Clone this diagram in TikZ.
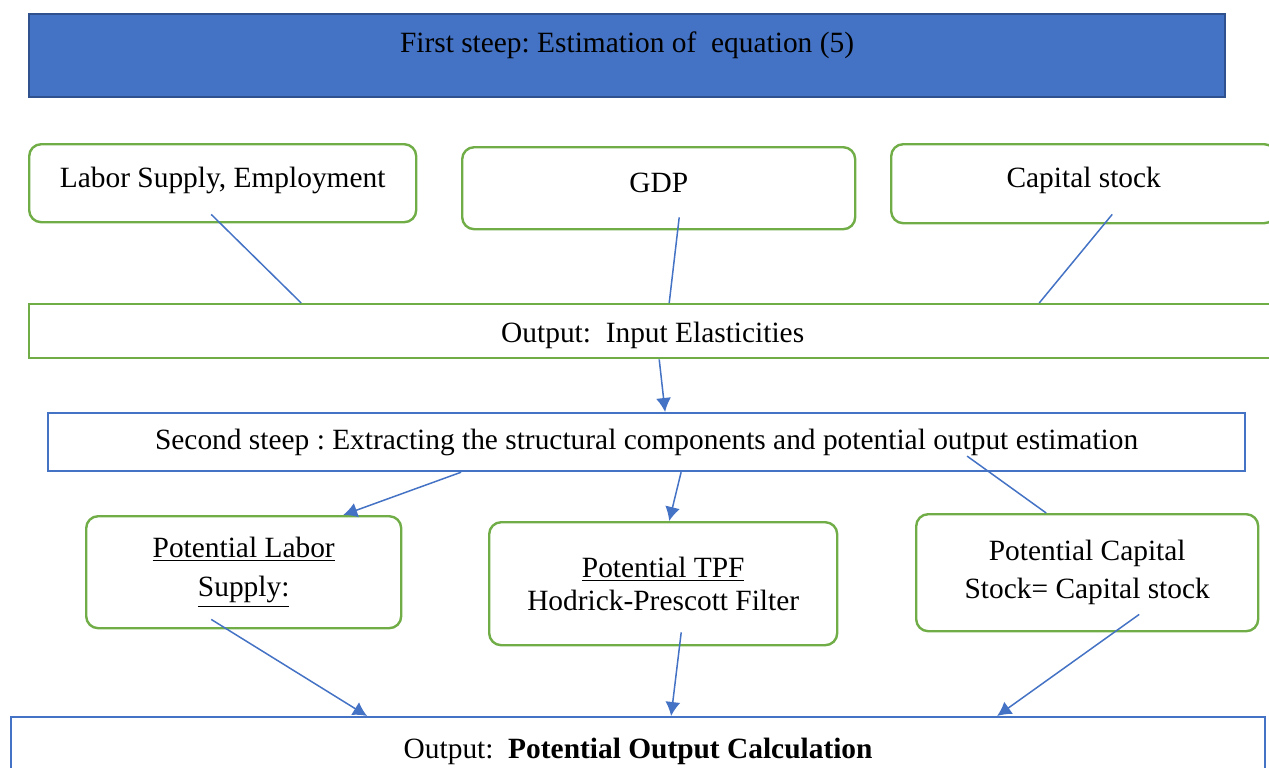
\documentclass[tikz,border=0pt,12pt]{standalone}
\usepackage{fontspec}
\setmainfont{Liberation Serif}
\usetikzlibrary{arrows.meta,positioning}
\definecolor{boxgreen}{HTML}{70AD47}
\definecolor{boxblue}{HTML}{4472C4}
\definecolor{darkblue}{HTML}{2F528F}
\tikzset{
  every node/.style={font=\fontsize{14.7pt}{17.6pt}\selectfont},
  roundbox/.style={draw=boxgreen,line width=1.2pt,rounded corners=6pt,anchor=north west,align=center,inner sep=0pt},
  greenrect/.style={draw=boxgreen,line width=1.2pt,anchor=north west,inner sep=0pt},
  bluerect/.style={draw=boxblue,line width=1.1pt,anchor=north west,inner sep=0pt},
  topbar/.style={draw=darkblue,fill=boxblue,line width=1pt,anchor=north west,inner sep=0pt},
  link/.style={draw=boxblue,line width=0.75pt}
}
\frenchspacing
\begin{document}
\begin{tikzpicture}[x=0.5pt,y=-0.5pt,>={Latex[length=7pt,width=7.5pt]}]
\useasboundingbox (0,0) rectangle (1269,767);
% first step
\node[topbar,minimum width=598pt,minimum height=41.5pt,text height=10pt,text depth=13.5pt] (first) at (28,13) {First steep: Estimation of\ \ equation (5)};
\node[roundbox,minimum width=193.5pt,minimum height=39pt,text depth=6pt] (lab) at (28,143) {Labor Supply, Employment};
\node[roundbox,minimum width=196.5pt,minimum height=41pt,text height=10pt,text depth=6pt] (gdp) at (461,146) {GDP};
\node[roundbox,minimum width=192.5pt,minimum height=39.5pt,text depth=6pt] (cap) at (890,143) {Capital stock};
\node[greenrect,minimum width=623.5pt,minimum height=27pt,text height=14pt] (elas) at (28,303) {Output:\ \ Input Elasticities};
% second step
\node[bluerect,minimum width=598.5pt,minimum height=29pt] (second) at (47,412) {Second steep : Extracting the structural components and potential output estimation};
\node[roundbox,minimum width=157.5pt,minimum height=56pt] (plab) at (85,515) {\underline{Potential Labor}\\[2pt]\underline{Supply:}};
\node[roundbox,minimum width=174pt,minimum height=61.5pt] (ptpf) at (488,521) {\underline{Potential TPF}\\[-1pt]Hodrick-Prescott Filter};
\node[roundbox,minimum width=171pt,minimum height=58.5pt] (pcap) at (915,513) {Potential Capital\\[1.5pt]Stock= Capital stock};
\node[bluerect,minimum width=627pt,minimum height=34pt] (out) at (10,716) {Output:\ \ \textbf{Potential Output Calculation}};
% links
\draw[link] ([shift={(-11.5,-9)}]lab.south) -- ([shift={(-351.5,0)}]elas.north);
\draw[link] ([shift={(20.5,-13)}]gdp.south) -- ([shift={(16.5,0)}]elas.north);
\draw[link] ([shift={(28.5,-10)}]cap.south) -- ([shift={(386.5,0)}]elas.north);
\draw[link,->] ([shift={(6.5,0)}]elas.south) -- ([shift={(18.5,0)}]second.north);
\draw[link,->] ([shift={(-185.5,0)}]second.south) -- ([shift={(99.5,0)}]plab.north);
\draw[link,->] ([shift={(34.5,0)}]second.south) -- ([shift={(6,0)}]ptpf.north);
\draw[link] ([shift={(-41,0)}]pcap.north) -- ([shift={(320.5,14)}]second.center);
\draw[link,->] ([shift={(-32.5,-10)}]plab.south) -- ([shift={(-271,0)}]out.north);
\draw[link,->] ([shift={(18,-14)}]ptpf.south) -- ([shift={(33,0)}]out.north);
\draw[link,->] ([shift={(52,-18)}]pcap.south) -- ([shift={(359,0)}]out.north);
\end{tikzpicture}
\end{document}
